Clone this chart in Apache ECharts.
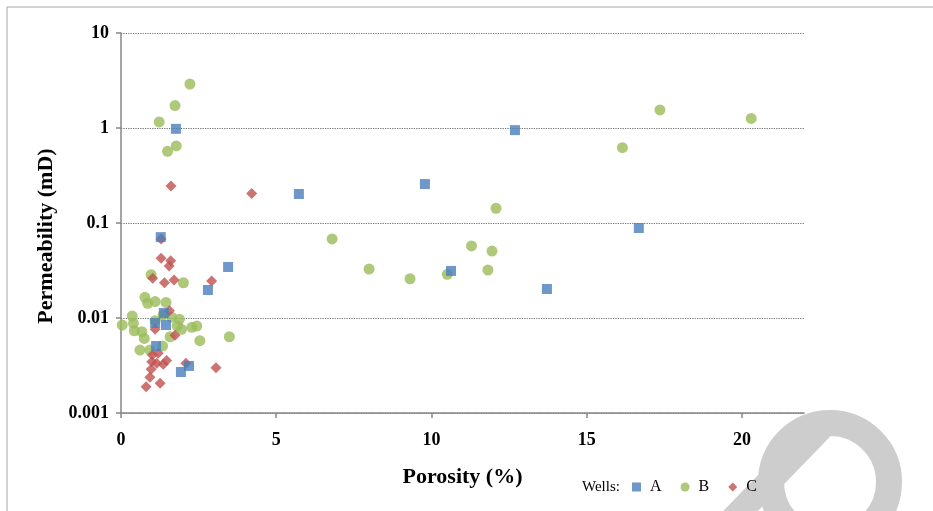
<!DOCTYPE html>
<html>
<head>
<meta charset="utf-8">
<script src="https://cdn.jsdelivr.net/npm/echarts@6/dist/echarts.min.js"></script>
<style>
html,body{margin:0;padding:0;background:#fff;}
#chart{width:933px;height:511px;}
</style>
</head>
<body>
<div id="chart"></div>
<script>
// ---- data ----
const xTickValues = [0, 5, 10, 15, 20];
const yTickLabels = ['0.001', '0.01', '0.1', '1', '10'];
const seriesNames = ['A', 'B', 'C'];

const wellAPorosity = [1.77, 1.28, 5.73, 9.79, 12.69, 16.68, 3.45, 2.80, 10.63, 13.72, 2.19, 1.93, 1.10, 1.45, 1.38, 1.13];
const wellAPerm     = [0.98, 0.071, 0.202, 0.257, 0.95, 0.0886, 0.0344, 0.0197, 0.0313, 0.0202, 0.00313, 0.0027, 0.00886, 0.00844, 0.0113, 0.00507];

const wellBPorosity = [2.22, 1.74, 1.23, 1.78, 1.50, 17.36, 20.30, 16.15, 12.08, 6.80, 7.99, 9.31, 10.51, 11.29, 11.95, 11.82, 3.49, 2.54, 2.01, 0.97, 0.77, 0.86, 1.10, 1.45, 0.36, 0.04, 0.40, 0.43, 0.67, 0.75, 0.61, 0.93, 1.34, 1.10, 1.36, 1.63, 1.88, 1.81, 1.95, 1.58, 2.28, 2.44];
const wellBPerm     = [2.90, 1.72, 1.16, 0.647, 0.569, 1.55, 1.26, 0.621, 0.143, 0.0679, 0.0328, 0.0259, 0.0288, 0.0573, 0.0507, 0.032, 0.00635, 0.00577, 0.0235, 0.0286, 0.0165, 0.0143, 0.0149, 0.0146, 0.0105, 0.00844, 0.0088, 0.00734, 0.00718, 0.0061, 0.0046, 0.0046, 0.00507, 0.00937, 0.0108, 0.0102, 0.0097, 0.00824, 0.0076, 0.00635, 0.00798, 0.00824];

const wellCPorosity = [1.61, 4.21, 1.29, 1.29, 1.60, 1.55, 1.02, 1.40, 1.71, 2.92, 1.56, 1.10, 1.74, 1.01, 1.20, 0.99, 1.15, 1.47, 1.36, 0.97, 0.93, 1.26, 0.81, 2.09, 3.06];
const wellCPerm     = [0.245, 0.205, 0.068, 0.0425, 0.0401, 0.0353, 0.0262, 0.0235, 0.0251, 0.0245, 0.0119, 0.0076, 0.0066, 0.00408, 0.00426, 0.00347, 0.00334, 0.00356, 0.00326, 0.00289, 0.00238, 0.00206, 0.00189, 0.00334, 0.003];

// ---- chart ----
const zip = (xs, ys) => xs.map((x, i) => [x, ys[i]]);
const serif = "'Liberation Serif', 'Times New Roman', serif";
const axisGray = '#868686';

const chart = echarts.init(document.getElementById('chart'), null, {renderer: 'canvas'});
chart.setOption({
  animation: false,
  backgroundColor: '#ffffff',
  grid: {left: 121, right: 129, top: 33, bottom: 98, containLabel: false},
  xAxis: {
    type: 'value', min: 0, max: 22, interval: 5,
    axisLine: {show: true, onZero: false, lineStyle: {color: axisGray, width: 1.5}},
    axisTick: {show: true, inside: false, length: 5, lineStyle: {color: axisGray, width: 1.5}, customValues: xTickValues},
    axisLabel: {
      show: true, margin: 18, color: '#000', fontFamily: serif, fontWeight: 'bold', fontSize: 18,
      customValues: xTickValues,
      formatter: v => (xTickValues.indexOf(v) >= 0 ? String(v) : '')
    },
    splitLine: {show: false},
    name: 'Porosity (%)', nameLocation: 'middle', nameGap: 53,
    nameTextStyle: {color: '#000', fontFamily: serif, fontWeight: 'bold', fontSize: 22}
  },
  yAxis: {
    type: 'log', logBase: 10, min: 0.001, max: 10,
    axisLine: {show: true, lineStyle: {color: axisGray, width: 1.5}},
    axisTick: {show: true, inside: false, length: 5, lineStyle: {color: axisGray, width: 1.5}},
    minorTick: {show: false},
    axisLabel: {
      show: true, margin: 12, color: '#000', fontFamily: serif, fontWeight: 'bold', fontSize: 18,
      formatter: v => {
        const idx = Math.round(Math.log10(v)) + 3;
        return yTickLabels[idx] !== undefined ? yTickLabels[idx] : '';
      }
    },
    splitLine: {show: true, lineStyle: {color: '#707070', type: 'dotted', width: 1.2}},
    name: 'Permeability (mD)', nameLocation: 'middle', nameGap: 60,
    nameTextStyle: {color: '#000', fontFamily: serif, fontWeight: 'bold', fontSize: 22, padding: [0, 26, 0, 0]}
  },
  legend: {
    left: 632, top: 479, padding: 0,
    itemWidth: 9, itemHeight: 9, itemGap: 19,
    textStyle: {color: '#000', fontFamily: serif, fontSize: 16, padding: [0, 0, 0, 4]},
    data: [
      {name: seriesNames[0], icon: 'rect'},
      {name: seriesNames[1], icon: 'circle'},
      {name: seriesNames[2], icon: 'diamond'}
    ]
  },
  graphic: [
    {type: 'polyline', z: 0, silent: true, shape: {points: [[7, 511], [7, 7], [933, 7]]},
     style: {stroke: '#a6a6a6', lineWidth: 1, fill: null}},
    {type: 'line', z: 0, silent: true, shape: {x1: 728, y1: 524, x2: 822, y2: 427},
     style: {stroke: '#cdcdcd', lineWidth: 25, lineCap: 'round'}},
    {type: 'circle', z: 0, silent: true, shape: {cx: 830, cy: 482, r: 59},
     style: {stroke: '#cdcdcd', lineWidth: 26, fill: null}},
    {type: 'text', z: 5, silent: true, left: 582, top: 480,
     style: {text: 'Wells:', fill: '#000', font: "15px 'Liberation Serif'", verticalAlign: 'top'}}
  ],
  series: [
    {name: seriesNames[1], type: 'scatter', symbol: 'circle', symbolSize: 11, z: 2,
     itemStyle: {color: '#9bbb59'}, data: zip(wellBPorosity, wellBPerm)},
    {name: seriesNames[2], type: 'scatter', symbol: 'diamond', symbolSize: 11, z: 3,
     itemStyle: {color: '#c0504d'}, data: zip(wellCPorosity, wellCPerm)},
    {name: seriesNames[0], type: 'scatter', symbol: 'rect', symbolSize: 10, z: 4,
     itemStyle: {color: '#4a7ebb'}, data: zip(wellAPorosity, wellAPerm)}
  ]
});
</script>
</body>
</html>
